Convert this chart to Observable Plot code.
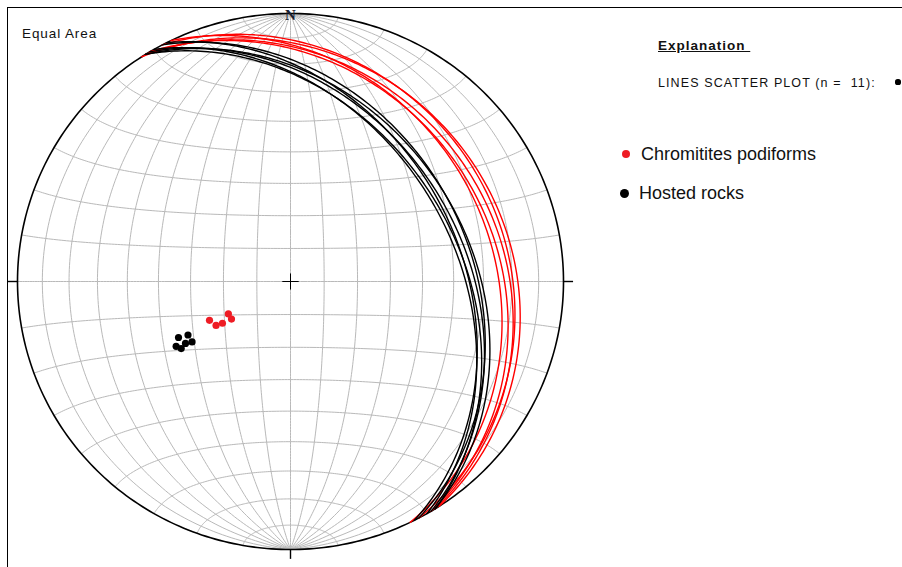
<!DOCTYPE html>
<html><head><meta charset="utf-8">
<script src="https://cdn.jsdelivr.net/npm/d3@7"></script>
<script src="https://cdn.jsdelivr.net/npm/@observablehq/plot@0.6"></script>
<style>
body{margin:0;background:#fff;font-family:Arial,"Liberation Sans",sans-serif;}
#wrap{position:relative;width:902px;height:567px;overflow:hidden;background:#fff;}
#wrap svg{position:absolute;left:0;top:0;}
.frame{position:absolute;left:7px;top:7px;width:1000px;height:1000px;border-top:1px solid #000;border-left:1px solid #000;}
.t{position:absolute;white-space:pre;color:#111;line-height:1;}
.dot{position:absolute;border-radius:50%;}
</style></head><body>
<div id="wrap"><div class="frame"></div></div>
<script>
// Poles (lines scatter plot): trend / plunge in degrees
const redPoleTrend   = [244, 239, 238, 242, 237];
const redPolePlunge  = [63, 64, 66, 69, 69];
const blackPoleTrend  = [243, 242, 239, 238, 240, 238];
const blackPolePlunge = [52, 55, 53, 55, 50, 51];
// Planes (great circles): dip direction / dip in degrees
const redPlaneDipDir   = [64, 59, 58, 62, 57];
const redPlaneDip      = [27, 26, 24, 22, 21];
const blackPlaneDipDir = [63, 62, 59, 58, 60, 58];
const blackPlaneDip    = [38, 35, 37, 35, 40, 39];
// Net grid (Schmidt net, 10° spacing)
const gridLongitudes = [-80,-70,-60,-50,-40,-30,-20,-10,0,10,20,30,40,50,60,70,80];
const gridLatitudes  = [-80,-70,-60,-50,-40,-30,-20,-10,0,10,20,30,40,50,60,70,80];
const compassAzimuths = [0, 90, 180, 270];
const legendLabels = ["Chromitites podiforms", "Hosted rocks"];
const legendColors = ["#ee1c24", "#000000"];

const rad = Math.PI / 180;
// lower-hemisphere equal-area projection of unit vector (E, N, Down)
function pv(E, N, D) { const k = 1 / Math.sqrt(1 + D); return [E * k, N * k]; }
function projLine(trend, plunge) {
  const t = trend * rad, p = plunge * rad;
  return pv(Math.cos(p) * Math.sin(t), Math.cos(p) * Math.cos(t), Math.sin(p));
}
function greatCircle(dd, dip, id) {
  const s = (dd - 90) * rad, a = dd * rad, d = dip * rad;
  const S = [Math.sin(s), Math.cos(s), 0];
  const Dv = [Math.sin(a) * Math.cos(d), Math.cos(a) * Math.cos(d), Math.sin(d)];
  const pts = [];
  for (let t = 0; t <= 180; t += 1) {
    const c = Math.cos(t * rad), sn = Math.sin(t * rad);
    const [x, y] = pv(c * S[0] + sn * Dv[0], c * S[1] + sn * Dv[1], Math.max(0, c * S[2] + sn * Dv[2]));
    pts.push({x, y, id});
  }
  return pts;
}
const grid = [];
gridLongitudes.forEach(l => {
  for (let f = -90; f <= 90; f += 1) {
    const [x, y] = pv(Math.cos(f*rad)*Math.sin(l*rad), Math.sin(f*rad), Math.cos(f*rad)*Math.cos(l*rad));
    grid.push({x, y, id: "m" + l});
  }
});
gridLatitudes.forEach(f => {
  for (let l = -90; l <= 90; l += 1) {
    const [x, y] = pv(Math.cos(f*rad)*Math.sin(l*rad), Math.sin(f*rad), Math.cos(f*rad)*Math.cos(l*rad));
    grid.push({x, y, id: "p" + f});
  }
});
const primitive = d3.range(0, 361, 1).map(a => ({x: Math.sin(a*rad), y: Math.cos(a*rad)}));
const redCircles = redPlaneDipDir.flatMap((dd, i) => greatCircle(dd, redPlaneDip[i], "r" + i));
const blackCircles = blackPlaneDipDir.flatMap((dd, i) => greatCircle(dd, blackPlaneDip[i], "b" + i));
const redPoles = redPoleTrend.map((t, i) => projLine(t, redPolePlunge[i]));
const blackPoles = blackPoleTrend.map((t, i) => projLine(t, blackPolePlunge[i]));
const ticks = compassAzimuths.filter(a => a !== 0).map(a => ({
  x1: Math.sin(a*rad), y1: Math.cos(a*rad), x2: 1.035*Math.sin(a*rad), y2: 1.035*Math.cos(a*rad)}));
const cross = [{x1:-0.03,y1:0,x2:0.03,y2:0},{x1:0,y1:-0.03,x2:0,y2:0.03}];

const chart = Plot.plot({
  width: 902, height: 567, margin: 0,
  x: {domain: [-1, 1], range: [17, 563], axis: null},
  y: {domain: [-1, 1], range: [549, 13], axis: null},
  style: {background: "transparent"},
  marks: [
    Plot.line(grid, {x: "x", y: "y", z: "id", stroke: "#b9b9b9", strokeWidth: 1}),
    Plot.line(primitive, {x: "x", y: "y", stroke: "#000", strokeWidth: 1.6}),
    Plot.link(ticks, {x1: "x1", y1: "y1", x2: "x2", y2: "y2", stroke: "#000", strokeWidth: 1.4}),
    Plot.link(cross, {x1: "x1", y1: "y1", x2: "x2", y2: "y2", stroke: "#000", strokeWidth: 1}),
    Plot.line(redCircles, {x: "x", y: "y", z: "id", stroke: "#ff0000", strokeWidth: 1.4}),
    Plot.line(blackCircles, {x: "x", y: "y", z: "id", stroke: "#000", strokeWidth: 1.4}),
    Plot.dot(redPoles, {x: d => d[0], y: d => d[1], r: 3.6, fill: "#ee1c24", stroke: "none"}),
    Plot.dot(blackPoles, {x: d => d[0], y: d => d[1], r: 3.6, fill: "#000", stroke: "none"}),
    Plot.text(compassAzimuths.filter(a => a === 0), {x: a => Math.sin(a*rad), y: a => Math.cos(a*rad), text: () => "N",
      dy: 2, fontSize: 15, fontWeight: "bold", fontFamily: "Liberation Serif, serif", fill: "#1a2030"})
  ]
});
const wrap = document.getElementById("wrap");
wrap.insertBefore(chart, wrap.firstChild);

function addText(txt, left, top, size, extra) {
  const el = document.createElement("div");
  el.className = "t"; el.textContent = txt;
  el.style.left = left + "px"; el.style.top = top + "px"; el.style.fontSize = size + "px";
  Object.assign(el.style, extra || {});
  wrap.appendChild(el);
}
function addDot(cx, cy, r, color) {
  const el = document.createElement("div");
  el.className = "dot";
  el.style.left = (cx - r) + "px"; el.style.top = (cy - r) + "px";
  el.style.width = el.style.height = (2*r) + "px"; el.style.background = color;
  wrap.appendChild(el);
}
addText("Equal Area", 22, 27, 13.5, {letterSpacing: "0.9px"});
addText("Explanation ", 658, 39, 13.5, {fontWeight: "bold", textDecoration: "underline", letterSpacing: "1px"});
addText("LINES SCATTER PLOT (n =  11):", 658, 77, 12.5, {letterSpacing: "1.1px"});
addDot(898, 82, 2.6, "#000");
addDot(626, 154, 4.3, legendColors[0]);
addText(legendLabels[0], 641, 145, 18);
addDot(624, 193, 4.5, legendColors[1]);
addText(legendLabels[1], 639, 184, 18);
</script>
</body></html>
